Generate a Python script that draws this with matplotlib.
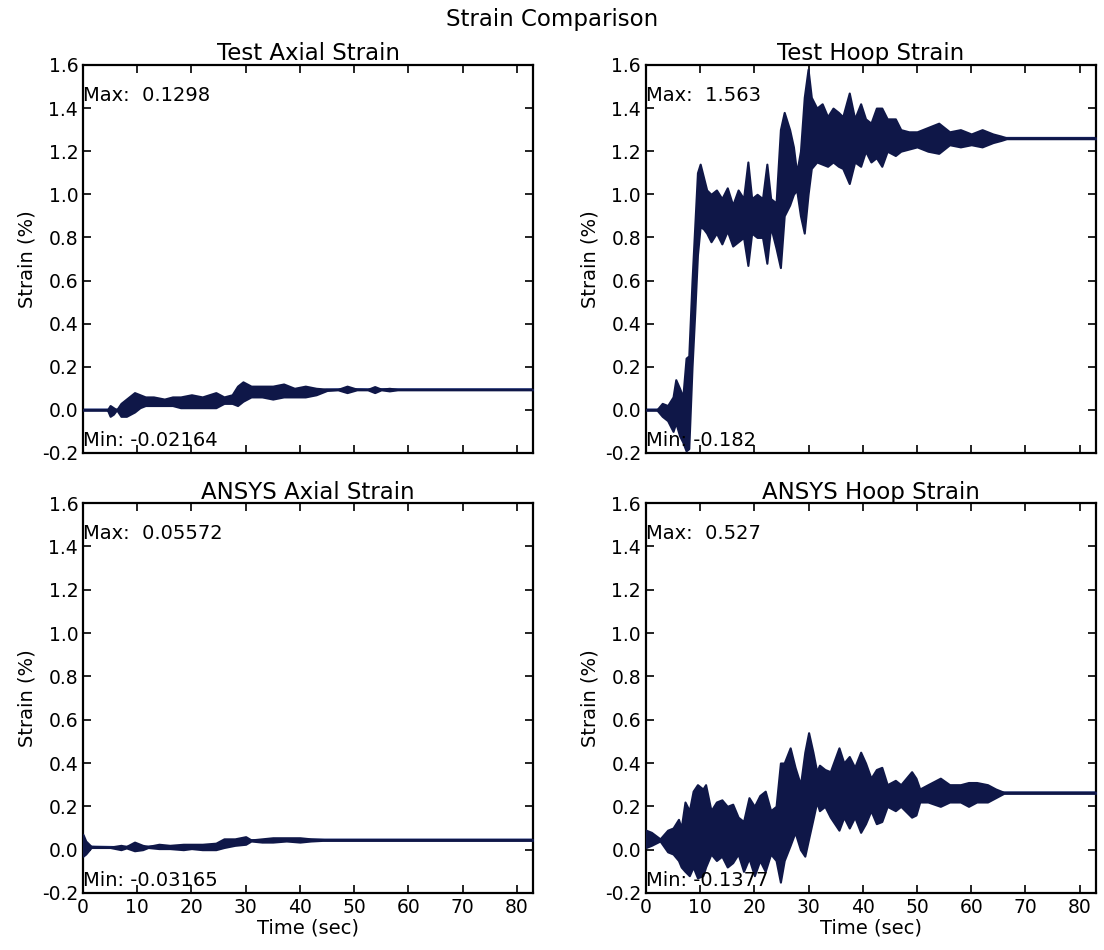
import matplotlib
matplotlib.use('Agg')
import matplotlib.pyplot as plt
import numpy as np

# ==================================
# Envelope of each strain record (time [s], upper, lower [%])
# ==================================
test_axial_t = [0, 4.5, 5.0, 5.6, 6.2, 7.0, 8.0, 9.5, 10.5, 11.5, 13.0, 15.0, 16.5, 18.0, 20.0,
                22.0, 24.5, 26.0, 27.5, 28.5, 29.5, 31.0, 33.0, 35.0, 37.0, 39.0, 41.0, 43.0,
                45.0, 47.0, 48.7, 50.5, 52.5, 53.8, 55.0, 56.5, 58.0, 83.0]
test_axial_hi = [0, 0, 0.02, 0.01, 0.0, 0.03, 0.05, 0.08, 0.07, 0.06, 0.06, 0.05, 0.06, 0.06, 0.07,
                 0.06, 0.08, 0.06, 0.07, 0.11, 0.13, 0.11, 0.11, 0.11, 0.12, 0.10, 0.11, 0.10,
                 0.096, 0.095, 0.11, 0.096, 0.095, 0.108, 0.096, 0.10, 0.095, 0.095]
test_axial_lo = [0, 0, -0.03, -0.02, 0.0, -0.03, -0.03, -0.01, 0.01, 0.02, 0.02, 0.02, 0.02, 0.01, 0.01,
                 0.01, 0.01, 0.03, 0.03, 0.02, 0.04, 0.06, 0.06, 0.05, 0.06, 0.06, 0.06, 0.07,
                 0.09, 0.093, 0.08, 0.093, 0.093, 0.08, 0.093, 0.088, 0.093, 0.093]

test_hoop_t = [0, 2.0, 3.0, 4.0, 5.0, 5.5, 6.2, 6.8, 7.4, 7.9, 8.5, 9.0, 9.5, 10.0, 10.6, 11.2,
               12.0, 13.0, 14.0, 15.0, 16.0, 17.0, 18.0, 18.8, 19.5, 20.5, 21.5, 22.3, 23.0, 24.0,
               24.8, 25.5, 26.5, 27.2, 27.8, 28.5, 29.2, 29.9, 30.5, 31.5, 32.5, 33.5, 34.5,
               35.5, 36.3, 37.5, 38.5, 39.6, 40.5, 41.5, 42.5, 43.5, 44.5, 46.0, 47.0, 48.5, 50.0,
               52.0, 54.0, 56.0, 58.0, 60.0, 62.0, 64.0, 65.5, 66.5, 83.0]
test_hoop_hi = [0, 0, 0.03, 0.02, 0.06, 0.14, 0.10, 0.06, 0.24, 0.25, 0.60, 0.85, 1.10, 1.14, 1.08, 1.02,
                1.00, 1.02, 0.98, 1.03, 0.95, 1.02, 0.98, 1.15, 0.98, 1.00, 0.98, 1.14, 0.98, 0.96,
                1.30, 1.38, 1.30, 1.22, 1.10, 1.20, 1.45, 1.58, 1.45, 1.40, 1.42, 1.36, 1.40,
                1.38, 1.36, 1.47, 1.35, 1.42, 1.35, 1.33, 1.40, 1.40, 1.35, 1.35, 1.30, 1.29, 1.29,
                1.31, 1.33, 1.29, 1.30, 1.28, 1.30, 1.28, 1.27, 1.262, 1.262]
test_hoop_lo = [0, 0, -0.03, -0.05, -0.10, -0.06, -0.12, -0.15, -0.19, -0.18, 0.20, 0.45, 0.72, 0.85, 0.84, 0.82,
                0.78, 0.82, 0.77, 0.83, 0.76, 0.78, 0.80, 0.67, 0.82, 0.80, 0.80, 0.68, 0.85, 0.75,
                0.66, 0.90, 0.95, 1.00, 1.02, 0.90, 0.82, 1.00, 1.12, 1.15, 1.14, 1.13, 1.15,
                1.13, 1.12, 1.05, 1.15, 1.13, 1.20, 1.15, 1.17, 1.13, 1.20, 1.18, 1.20, 1.21, 1.22,
                1.20, 1.19, 1.23, 1.22, 1.23, 1.22, 1.24, 1.25, 1.258, 1.258]

ansys_axial_t = [0, 0.5, 1.5, 5.0, 7.0, 8.0, 9.5, 11.0, 12.0, 14.0, 16.0, 18.5, 20.0, 22.0, 24.5,
                 26.0, 28.0, 30.0, 31.0, 33.0, 35.0, 37.5, 40.0, 42.0, 45.0, 83.0]
ansys_axial_hi = [0.07, 0.04, 0.015, 0.012, 0.02, 0.015, 0.035, 0.02, 0.015, 0.025, 0.02, 0.025, 0.025,
                  0.025, 0.03, 0.05, 0.05, 0.06, 0.045, 0.05, 0.055, 0.055, 0.055, 0.05, 0.046, 0.046]
ansys_axial_lo = [-0.03, -0.02, 0.01, 0.010, 0.0, 0.008, -0.005, 0.0, 0.01, 0.005, 0.005, 0.0, 0.005,
                  0.0, 0.0, 0.01, 0.02, 0.025, 0.04, 0.035, 0.035, 0.04, 0.035, 0.04, 0.044, 0.044]

ansys_hoop_t = [0, 1.0, 2.6, 4.0, 5.0, 6.0, 6.5, 7.2, 8.0, 8.7, 9.5, 10.5, 11.0, 12.0, 13.0, 14.0,
                15.0, 16.0, 17.0, 18.0, 19.0, 20.0, 21.0, 22.0, 23.0, 24.0, 24.8, 25.5, 26.6, 27.5,
                28.5, 29.3, 30.0, 30.8, 31.5, 32.0, 33.0, 34.0, 35.6, 36.5, 37.5, 38.5, 39.6, 40.5,
                41.5, 42.5, 43.5, 44.5, 46.0, 47.0, 49.0, 49.8, 50.5, 52.0, 54.3, 56.0, 58.0, 59.5,
                61.0, 63.0, 64.5, 66.0, 83.0]
ansys_hoop_hi = [0.09, 0.08, 0.05, 0.09, 0.10, 0.14, 0.10, 0.22, 0.18, 0.27, 0.30, 0.28, 0.30, 0.18, 0.22, 0.23,
                 0.20, 0.21, 0.15, 0.13, 0.24, 0.20, 0.25, 0.27, 0.18, 0.20, 0.40, 0.40, 0.47, 0.38,
                 0.30, 0.45, 0.54, 0.45, 0.36, 0.39, 0.37, 0.36, 0.47, 0.40, 0.43, 0.38, 0.45, 0.40,
                 0.33, 0.37, 0.38, 0.30, 0.32, 0.30, 0.36, 0.33, 0.28, 0.30, 0.33, 0.30, 0.30, 0.31,
                 0.31, 0.30, 0.28, 0.265, 0.265]
ansys_hoop_lo = [0.01, 0.02, 0.04, -0.01, -0.02, -0.05, -0.08, -0.10, -0.12, -0.08, -0.13, -0.12, -0.08, -0.02, -0.05, -0.03,
                 -0.08, -0.06, -0.02, -0.10, -0.04, -0.12, -0.05, -0.10, -0.02, -0.05, -0.15, -0.05, 0.02, 0.08,
                 0.0, -0.03, 0.05, 0.14, 0.22, 0.18, 0.20, 0.15, 0.09, 0.15, 0.10, 0.15, 0.08, 0.12,
                 0.18, 0.12, 0.13, 0.20, 0.18, 0.20, 0.15, 0.16, 0.22, 0.22, 0.20, 0.22, 0.22, 0.20,
                 0.22, 0.22, 0.24, 0.26, 0.26]

panel_titles = ['Test Axial Strain', 'Test Hoop Strain', 'ANSYS Axial Strain', 'ANSYS Hoop Strain']
max_labels = ['0.1298', '1.563', '0.05572', '0.527']
min_labels = ['-0.02164', '-0.182', '-0.03165', '-0.1377']

records = [
    (test_axial_t, test_axial_hi, test_axial_lo),
    (test_hoop_t, test_hoop_hi, test_hoop_lo),
    (ansys_axial_t, ansys_axial_hi, ansys_axial_lo),
    (ansys_hoop_t, ansys_hoop_hi, ansys_hoop_lo),
]

fill_color = '#0f1748'
line_color = '#1c2f78'

fig = plt.figure(figsize=(11.04, 9.5), dpi=100, facecolor='white')
fig.suptitle('Strain Comparison', fontsize=16.5, y=0.992)

# axes boxes [left, bottom, width, height] in figure fractions
boxes = [
    [0.0752, 0.5232, 0.4076, 0.4084],
    [0.5851, 0.5232, 0.4076, 0.4084],
    [0.0752, 0.0600, 0.4076, 0.4105],
    [0.5851, 0.0600, 0.4076, 0.4105],
]

for i, (t, hi, lo) in enumerate(records):
    ax = fig.add_axes(boxes[i])
    t = np.array(t)
    hi = np.array(hi)
    lo = np.array(lo)

    # thin trace first (visible only where the record has settled), dense band on top
    ax.plot(t, (hi + lo) / 2, color=line_color, linewidth=2, zorder=2)
    ax.fill_between(t, lo, hi, color=fill_color, linewidth=1.5, edgecolor=fill_color, zorder=3)

    ax.set_xlim(0, 83)
    ax.set_ylim(-0.2, 1.6)
    ax.set_xticks(np.arange(0, 81, 10))
    ax.set_yticks(np.arange(-0.2, 1.61, 0.2))
    ax.set_yticklabels([f'{v:.1f}' for v in np.arange(-0.2, 1.61, 0.2)])
    ax.tick_params(direction='in', top=True, right=True, length=6, width=1.2, labelsize=13.5)
    for s in ax.spines.values():
        s.set_linewidth(1.6)

    ax.set_title(panel_titles[i], fontsize=16.5, pad=3)
    ax.set_ylabel('Strain (%)', fontsize=14)
    if i >= 2:
        ax.set_xlabel('Time (sec)', fontsize=14, labelpad=1)
    else:
        ax.set_xticklabels([])

    ax.text(0, 1.46, f'Max:  {max_labels[i]}', ha='left', va='center', fontsize=14, zorder=4)
    ax.text(0, -0.14, f'Min: {min_labels[i]}', ha='left', va='center', fontsize=14, zorder=4)

fig.savefig('out.png', dpi=100, facecolor='white')
